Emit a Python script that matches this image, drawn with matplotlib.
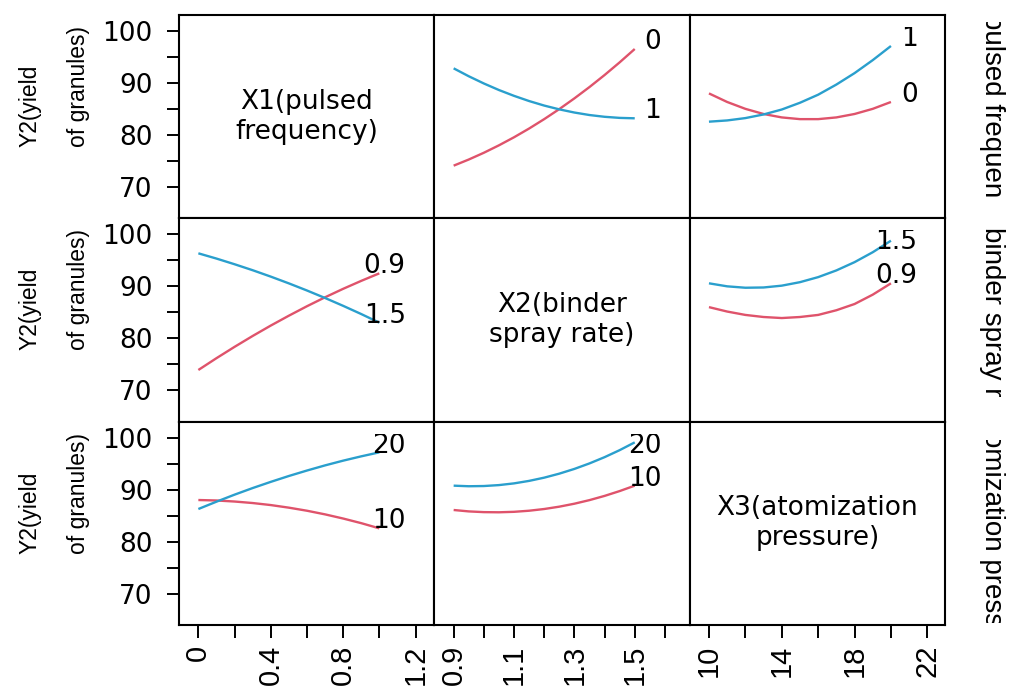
import matplotlib
matplotlib.use('Agg')
import matplotlib.pyplot as plt
from matplotlib.transforms import Bbox, TransformedBbox

# ---------------- data ----------------
x1_vals = [0.0, 0.1, 0.2, 0.3, 0.4, 0.5, 0.6, 0.7, 0.8, 0.9, 1.0]
x2_vals = [0.9, 0.95, 1.0, 1.05, 1.1, 1.15, 1.2, 1.25, 1.3, 1.35, 1.4, 1.45, 1.5]
x3_vals = [10, 11, 12, 13, 14, 15, 16, 17, 18, 19, 20]

# row 1: traces by X1 (pulsed frequency) level 0 / 1
r1c2_x1_0 = [74.10, 75.28, 76.58, 78.01, 79.56, 81.24, 83.05, 84.98, 87.04, 89.22, 91.53, 93.97, 96.54]
r1c2_x1_1 = [92.82, 91.30, 89.91, 88.65, 87.53, 86.53, 85.66, 84.93, 84.32, 83.84, 83.50, 83.29, 83.21]
r1c3_x1_0 = [88.00, 86.35, 85.03, 84.04, 83.38, 83.05, 83.05, 83.38, 84.04, 85.03, 86.35]
r1c3_x1_1 = [82.56, 82.80, 83.25, 83.95, 84.90, 86.20, 87.75, 89.70, 91.90, 94.40, 97.12]
# row 2: traces by X2 (binder spray rate) level 0.9 / 1.5
r2c1_x2_09 = [73.91, 76.18, 78.36, 80.45, 82.45, 84.35, 86.17, 87.89, 89.52, 91.05, 92.50]
r2c1_x2_15 = [96.35, 95.34, 94.25, 93.10, 91.87, 90.57, 89.20, 87.76, 86.25, 84.67, 83.01]
r2c3_x2_09 = [86.00, 85.15, 84.50, 84.10, 83.90, 84.10, 84.50, 85.40, 86.60, 88.40, 90.58]
r2c3_x2_15 = [90.58, 90.00, 89.73, 89.78, 90.13, 90.80, 91.77, 93.06, 94.65, 96.56, 98.78]
# row 3: traces by X3 (atomization pressure) level 10 / 20
r3c1_x3_10 = [88.01, 87.92, 87.72, 87.43, 87.04, 86.54, 85.95, 85.25, 84.45, 83.56, 82.56]
r3c1_x3_20 = [86.28, 87.69, 89.04, 90.31, 91.50, 92.63, 93.68, 94.67, 95.58, 96.41, 97.18]
r3c2_x3_10 = [86.09, 85.82, 85.68, 85.65, 85.74, 85.95, 86.28, 86.73, 87.30, 87.99, 88.80, 89.73, 90.77]
r3c2_x3_20 = [90.77, 90.66, 90.70, 90.88, 91.21, 91.69, 92.31, 93.08, 93.99, 95.05, 96.25, 97.60, 99.10]

diag_labels = ["X1(pulsed\nfrequency)", "X2(binder\nspray rate)", "X3(atomization\npressure)"]
# right-hand strip labels: only this part is visible (clipped by the strip)
side_labels = ["pulsed frequen", "binder spray ra", "omization press"]
ylab1, ylab2 = "Y2(yield", "of granules)"

y_ticks = [70, 75, 80, 85, 90, 95, 100]
y_ticklabels = ["70", "", "80", "", "90", "", "100"]
x_ticks = [[0, 0.2, 0.4, 0.6, 0.8, 1.0, 1.2],
           [0.9, 1.0, 1.1, 1.2, 1.3, 1.4, 1.5, 1.6],
           [10, 12, 14, 16, 18, 20, 22]]
x_ticklabels = [["0", "", "0.4", "", "0.8", "", "1.2"],
                ["0.9", "", "1.1", "", "1.3", "", "1.5", ""],
                ["10", "", "14", "", "18", "", "22"]]
xlims = [(-0.107, 1.304), (0.836, 1.682), (8.94, 22.97)]
ylim = (63.97, 103.08)
label_y_max = 97.1   # level labels are kept below this height

RED = "#DF536B"
BLUE = "#2A9FCD"

W, H, DPI = 1011, 693, 100
fig = plt.figure(figsize=(W / DPI, H / DPI), dpi=DPI)

col_left = [179, 434.33, 689.67]
col_w = 255.33
row_top = [15, 218.33, 421.67]
row_h = 203.33

HFONT = dict(family="DejaVu Sans", size=19)
XTFONT = dict(family="Liberation Sans", size=21)
YLFONT = dict(family="Liberation Sans", size=16.5)
SIDEFONT = dict(family="Liberation Sans", size=20)

panels = {
    (0, 1): (x2_vals, r1c2_x1_0, r1c2_x1_1, "0", "1"),
    (0, 2): (x3_vals, r1c3_x1_0, r1c3_x1_1, "0", "1"),
    (1, 0): (x1_vals, r2c1_x2_09, r2c1_x2_15, "0.9", "1.5"),
    (1, 2): (x3_vals, r2c3_x2_09, r2c3_x2_15, "0.9", "1.5"),
    (2, 0): (x1_vals, r3c1_x3_10, r3c1_x3_20, "10", "20"),
    (2, 1): (x2_vals, r3c2_x3_10, r3c2_x3_20, "10", "20"),
}

for r in range(3):
    for c in range(3):
        l = col_left[c] / W
        b = 1 - (row_top[r] + row_h) / H
        ax = fig.add_axes([l, b, col_w / W, row_h / H])
        ax.set_xlim(*xlims[c])
        ax.set_ylim(*ylim)
        for s in ax.spines.values():
            s.set_linewidth(1.5)
            s.set_color("black")
        ax.tick_params(direction="out", length=9, width=1.4, color="black")
        if c == 0:
            ax.set_yticks(y_ticks)
            ax.set_yticklabels(y_ticklabels, **HFONT)
            ax.tick_params(axis="y", pad=10)
        else:
            ax.set_yticks([])
        if r == 2:
            ax.set_xticks(x_ticks[c])
            ax.set_xticklabels(x_ticklabels[c], rotation=90, **XTFONT)
            ax.tick_params(axis="x", pad=5)
        else:
            ax.set_xticks([])
        if r == c:
            ax.text(0.5, 0.5, diag_labels[r], transform=ax.transAxes,
                    ha="center", va="center", linespacing=1.2, **HFONT)
            continue
        xs, ya, yb, la, lb = panels[(r, c)]
        ax.plot(xs, ya, color=RED, lw=1.7, solid_capstyle="butt")
        ax.plot(xs, yb, color=BLUE, lw=1.7, solid_capstyle="butt")
        rng = xs[-1] - xs[0]
        xl = xs[-1] + 0.146 * rng
        clip = TransformedBbox(Bbox([[0, 0], [1, 1 - 12 / row_h]]), ax.transAxes)
        for lab, yy in ((la, ya[-1]), (lb, yb[-1])):
            t = ax.text(xl, min(yy, label_y_max), lab, ha="right", va="baseline", **HFONT)
            t.set_clip_box(clip)
            t.set_clip_on(True)

# left y labels
for r in range(3):
    yb = 1 - (row_top[r] + 132) / H
    fig.text(30 / W, yb, ylab1, rotation=90, ha="center", va="bottom", **YLFONT)
    fig.text(78 / W, yb, ylab2, rotation=90, ha="center", va="bottom", **YLFONT)

# right side (clipped) strip labels
text_tops = [14, 227, 432]
clip_windows = [(22, 197), (226, 397), (440, 623)]
for r in range(3):
    t = fig.text(992 / W, 1 - text_tops[r] / H, side_labels[r], rotation=270,
                 ha="center", va="top", **SIDEFONT)
    y0, y1 = clip_windows[r]
    bb = Bbox([[950 / W, 1 - y1 / H], [1.0, 1 - y0 / H]])
    t.set_clip_box(TransformedBbox(bb, fig.transFigure))
    t.set_clip_on(True)

fig.savefig("out.png", dpi=DPI, facecolor="white")
